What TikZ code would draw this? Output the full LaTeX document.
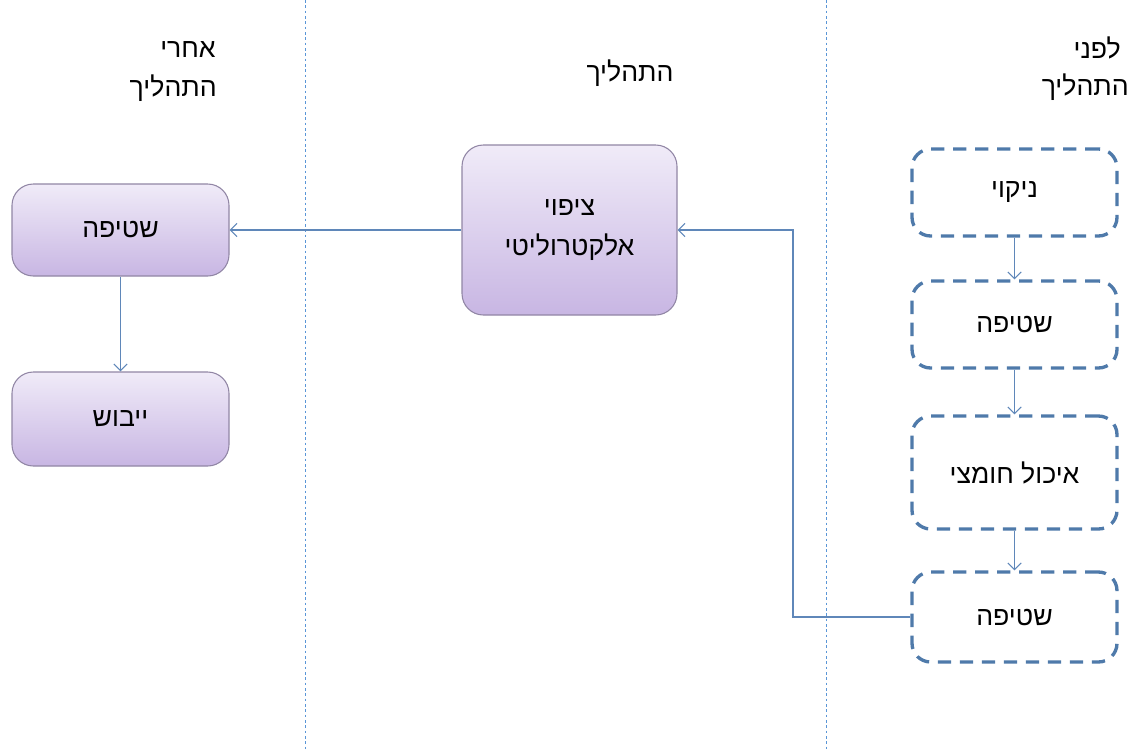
\documentclass[tikz,border=0pt]{standalone}
\usepackage{fontspec}
\usetikzlibrary{arrows.meta}
\TeXXeTstate=1
\newfontfamily\heb[Script=Hebrew]{Liberation Sans}
\definecolor{dashblue}{RGB}{79,122,170}
\definecolor{linkblue}{RGB}{95,135,185}
\definecolor{sepblue}{RGB}{90,150,215}
\definecolor{ptop}{RGB}{240,235,248}
\definecolor{pbot}{RGB}{200,182,227}
\definecolor{pborder}{RGB}{145,134,165}
\def\px{0.75pt}
\tikzset{
  dbox/.style={draw=dashblue, line width=2.5pt, dash pattern=on 10pt off 6.5pt,
    rounded corners=14pt, fill=white, inner sep=0pt, align=center,
    font=\heb\fontsize{20}{26}\selectfont},
  pbox/.style={draw=pborder, line width=0.8pt, rounded corners=16pt,
    top color=ptop, bottom color=pbot, inner sep=0pt, align=center,
    font=\heb\fontsize{20}{30}\selectfont},
  link/.style={draw=linkblue, line width=0.8pt, -{Straight Barb[length=5pt,width=10pt]}},
  sep/.style={draw=sepblue, line width=0.7pt, dash pattern=on 2pt off 2pt},
  head/.style={font=\heb\fontsize{20}{26}\selectfont, inner sep=0pt}
}
\begin{document}
\begin{tikzpicture}[x=0.75pt,y=-0.75pt]
\useasboundingbox (0,0) rectangle (1132,751);
% separators
\coordinate (s1t) at (305,0); \coordinate (s1b) at (305,751);
\coordinate (s2t) at (826,0); \coordinate (s2b) at (826,751);
\draw[sep] (s1t) -- (s1b);
\draw[sep] (s2t) -- (s2b);
% headers
\node[head, anchor=east] (h1a) at (216,50) {\beginR אחרי\endR};
\node[head, anchor=east] (h1b) at (217,88) {\beginR התהליך\endR};
\node[head] (h2) at (630,73) {\beginR התהליך\endR};
\node[head, anchor=east] (h3a) at (1121,48) {\beginR לפני\endR};
\node[head, anchor=east] (h3b) at (1129,87) {\beginR התהליך\endR};
% dashed boxes
\node[dbox, minimum width=205*\px, minimum height=87*\px] (d1) at (1014.5,192.5) {\beginR ניקוי\endR};
\node[dbox, minimum width=205*\px, minimum height=87*\px] (d2) at (1014.5,324.5) {\beginR שטיפה\endR};
\node[dbox, minimum width=205*\px, minimum height=113*\px] (d3) at (1014.5,472.5) {\beginR איכול חומצי\endR};
\node[dbox, minimum width=205*\px, minimum height=90*\px] (d4) at (1014.5,617) {\beginR שטיפה\endR};
% purple boxes
\node[pbox, minimum width=215*\px, minimum height=170*\px] (p1) at (569.5,230) {\beginR ציפוי\endR\\\beginR אלקטרוליטי\endR};
\node[pbox, minimum width=217*\px, minimum height=92*\px] (q1) at (120.5,230) {\beginR שטיפה\endR};
\node[pbox, minimum width=217*\px, minimum height=94*\px] (q2) at (120.5,419) {\beginR ייבוש\endR};
% connectors
\draw[link] (d1.south) -- (d2.north);
\draw[link] (d2.south) -- (d3.north);
\draw[link] (d3.south) -- (d4.north);
\coordinate (c1) at (793,617);
\coordinate (c2) at (793,230);
\draw[link] (d4.west) -- (c1) -- (c2) -- (p1.east);
\draw[link] (p1.west) -- (q1.east);
\draw[link] (q1.south) -- (q2.north);
\end{tikzpicture}
\end{document}
